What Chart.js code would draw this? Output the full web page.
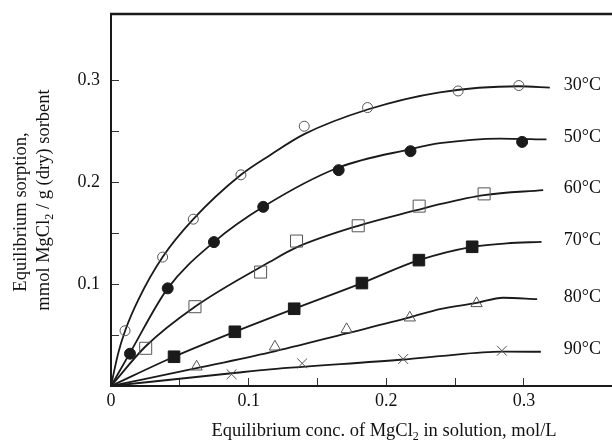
<!DOCTYPE html>
<html>
<head>
<meta charset="utf-8">
<title>MgCl2 sorption isotherms</title>
<script src="https://cdn.jsdelivr.net/npm/chart.js@4.4.1/dist/chart.umd.min.js"></script>
<style>
  html, body { margin: 0; padding: 0; background: #fff; }
  #wrap { position: relative; width: 612px; height: 444px; }
</style>
</head>
<body>
<div id="wrap"><canvas id="isotherms"></canvas></div>
<script>
// temperatures, one isotherm each
const temperatureLabels = ['30°C', '50°C', '60°C', '70°C', '80°C', '90°C'];

// measured points [conc mol/L, sorption mmol/g]
const measured30 = [[0.0102, 0.0542], [0.0375, 0.1265], [0.0598, 0.1637], [0.0944, 0.2072], [0.1404, 0.2549], [0.1864, 0.2732], [0.2522, 0.2895], [0.2963, 0.2948]];
const measured50 = [[0.0138, 0.0317], [0.0412, 0.0958], [0.0748, 0.1412], [0.1106, 0.1758], [0.1654, 0.2118], [0.2176, 0.2304], [0.2987, 0.2395]];
const measured60 = [[0.0252, 0.037], [0.061, 0.0778], [0.1087, 0.1118], [0.1348, 0.1422], [0.1796, 0.1572], [0.2239, 0.1765], [0.2711, 0.1885]];
const measured70 = [[0.0458, 0.0287], [0.09, 0.0532], [0.1331, 0.0758], [0.1823, 0.101], [0.2237, 0.1235], [0.2624, 0.1366]];
const measured80 = [[0.0622, 0.0189], [0.1191, 0.0385], [0.1712, 0.0556], [0.2171, 0.067], [0.2656, 0.0811]];
const measured90 = [[0.0876, 0.0115], [0.1389, 0.0222], [0.2123, 0.0265], [0.284, 0.0346]];

// smoothed isotherm curves
const fit30 = [[0, 0], [0.005, 0.031], [0.0102, 0.054], [0.02, 0.085], [0.0375, 0.1265], [0.0598, 0.1637], [0.0944, 0.2072], [0.1155, 0.2265], [0.1404, 0.2471], [0.1864, 0.2713], [0.2389, 0.2882], [0.2963, 0.2941], [0.3188, 0.2928]];
const fit50 = [[0, 0], [0.0138, 0.0325], [0.0412, 0.0958], [0.0748, 0.1412], [0.1106, 0.1758], [0.1654, 0.2144], [0.2176, 0.2324], [0.2389, 0.2382], [0.2825, 0.2428], [0.3164, 0.2419]];
const fit60 = [[0, 0], [0.0252, 0.039], [0.061, 0.0778], [0.1155, 0.1219], [0.1348, 0.136], [0.1796, 0.1572], [0.222, 0.1725], [0.2389, 0.1784], [0.2711, 0.1873], [0.314, 0.1922]];
const fit70 = [[0, 0], [0.0458, 0.0287], [0.09, 0.0532], [0.1331, 0.0758], [0.1823, 0.101], [0.2237, 0.1235], [0.2624, 0.1366], [0.2874, 0.1399], [0.3128, 0.1415]];
const fit80 = [[0, 0], [0.0622, 0.0175], [0.1155, 0.033], [0.1712, 0.0517], [0.2171, 0.0673], [0.2389, 0.0755], [0.2656, 0.0815], [0.2849, 0.0866], [0.3096, 0.0853]];
const fit90 = [[0, 0], [0.0876, 0.0125], [0.1155, 0.0164], [0.2123, 0.026], [0.2389, 0.0294], [0.284, 0.0337], [0.3123, 0.0336]];

// labelled tick values
const xTickLabels = [0, 0.1, 0.2, 0.3];
const yTickLabels = [0.1, 0.2, 0.3];

const SERIF = '"Liberation Serif", "Times New Roman", serif';
const INK = '#1a1a1a';

const markerStyles = [
  { pointStyle: 'circle', radius: 5, fill: 'rgba(0,0,0,0)', stroke: '#555' },
  { pointStyle: 'circle', radius: 5.5, fill: INK, stroke: INK },
  { pointStyle: 'rect', radius: 8.5, fill: 'rgba(0,0,0,0)', stroke: '#555' },
  { pointStyle: 'rect', radius: 8.2, fill: INK, stroke: INK },
  { pointStyle: 'triangle', radius: 6.5, fill: 'rgba(0,0,0,0)', stroke: '#555' },
  { pointStyle: 'crossRot', radius: 7, fill: 'rgba(0,0,0,0)', stroke: '#555' }
];

const measuredSets = [measured30, measured50, measured60, measured70, measured80, measured90];
const fitSets = [fit30, fit50, fit60, fit70, fit80, fit90];

const toXY = pairs => pairs.map(([x, y]) => ({ x, y }));

const datasets = [];
measuredSets.forEach((pts, i) => {
  const m = markerStyles[i];
  datasets.push({
    label: temperatureLabels[i] + ' data',
    data: toXY(pts),
    showLine: false,
    pointStyle: m.pointStyle,
    pointRadius: m.radius,
    pointBackgroundColor: m.fill,
    pointBorderColor: m.stroke,
    pointBorderWidth: 1
  });
});
fitSets.forEach((pts, i) => {
  datasets.push({
    label: temperatureLabels[i],
    data: toXY(pts),
    showLine: true,
    borderColor: INK,
    borderWidth: 1.8,
    pointRadius: 0,
    cubicInterpolationMode: 'monotone',
    fill: false
  });
});

// draws a string with a subscripted part, runs = [[text, isSub], ...]
function drawRich(ctx, runs, size, align) {
  const subSize = Math.round(size * 0.66);
  const widths = runs.map(([t, sub]) => {
    ctx.font = (sub ? subSize : size) + 'px ' + SERIF;
    return ctx.measureText(t).width;
  });
  const total = widths.reduce((a, b) => a + b, 0);
  let x = align === 'center' ? -total / 2 : 0;
  ctx.textAlign = 'left';
  ctx.textBaseline = 'middle';
  runs.forEach(([t, sub], i) => {
    ctx.font = (sub ? subSize : size) + 'px ' + SERIF;
    ctx.fillText(t, x, sub ? size * 0.3 : 0);
    x += widths[i];
  });
}

const decorations = {
  id: 'decorations',
  afterDraw(chart) {
    const { ctx, chartArea: area, scales: { x, y } } = chart;
    ctx.save();

    // top edge of the frame
    ctx.strokeStyle = INK;
    ctx.lineWidth = 2.5;
    ctx.beginPath();
    ctx.moveTo(area.left - 1, area.top);
    ctx.lineTo(area.right, area.top);
    ctx.stroke();

    // temperature tags at the end of each curve
    ctx.fillStyle = '#111';
    ctx.font = '18px ' + SERIF;
    ctx.textAlign = 'left';
    ctx.textBaseline = 'middle';
    fitSets.forEach((pts, i) => {
      const last = pts[pts.length - 1];
      ctx.fillText(temperatureLabels[i], x.getPixelForValue(0.329), y.getPixelForValue(last[1]) - 2);
    });

    // x axis title
    ctx.save();
    ctx.translate(384, 431);
    drawRich(ctx, [['Equilibrium conc. of MgCl', false], ['2', true], [' in solution, mol/L', false]], 18.5, 'center');
    ctx.restore();

    // y axis title, two lines
    ctx.save();
    ctx.translate(21, 212);
    ctx.rotate(-Math.PI / 2);
    drawRich(ctx, [['Equilibrium sorption,', false]], 18.5, 'center');
    ctx.restore();
    ctx.save();
    ctx.translate(44, 200);
    ctx.rotate(-Math.PI / 2);
    drawRich(ctx, [['mmol MgCl', false], ['2', true], [' / g (dry) sorbent', false]], 18.5, 'center');
    ctx.restore();

    ctx.restore();
  }
};

const isLabelled = (list, v) => list.some(t => Math.abs(t - v) < 1e-6);

// keep the plot box fixed: no extra room for edge labels
function pinScale(scale, size) {
  if (scale.isHorizontal()) scale.height = size; else scale.width = size;
  scale.paddingTop = 0;
  scale.paddingBottom = 0;
  scale.paddingLeft = 0;
  scale.paddingRight = 0;
}

new Chart(document.getElementById('isotherms'), {
  type: 'scatter',
  data: { datasets },
  plugins: [decorations],
  options: {
    responsive: true,
    maintainAspectRatio: false,
    animation: false,
    devicePixelRatio: 1,
    events: [],
    layout: { autoPadding: false, padding: { top: 14, right: 0, bottom: 0, left: 0 } },
    plugins: { legend: { display: false }, tooltip: { enabled: false } },
    scales: {
      x: {
        type: 'linear',
        position: 'bottom',
        min: 0,
        max: 0.364,
        border: { color: INK, width: 2 },
        grid: { drawOnChartArea: false, drawTicks: true, tickLength: -8, color: '#333', lineWidth: 1 },
        ticks: {
          stepSize: 0.05,
          padding: 12,
          color: '#111',
          font: { family: SERIF, size: 18 },
          maxRotation: 0,
          autoSkip: false,
          callback: v => isLabelled(xTickLabels, v) ? String(Math.round(v * 10) / 10) : ''
        },
        afterBuildTicks: scale => { scale.ticks = scale.ticks.filter(t => t.value <= 0.3001); },
        afterFit: scale => pinScale(scale, 58)
      },
      y: {
        type: 'linear',
        position: 'left',
        min: 0,
        max: 0.365,
        border: { color: INK, width: 2 },
        grid: { drawOnChartArea: false, drawTicks: true, tickLength: -8, color: '#333', lineWidth: 1 },
        ticks: {
          stepSize: 0.05,
          padding: 19,
          color: '#111',
          font: { family: SERIF, size: 18 },
          autoSkip: false,
          callback: v => isLabelled(yTickLabels, v) ? String(Math.round(v * 10) / 10) : ''
        },
        afterBuildTicks: scale => { scale.ticks = scale.ticks.filter(t => t.value <= 0.3001); },
        afterFit: scale => pinScale(scale, 111)
      }
    }
  }
});
</script>
</body>
</html>
